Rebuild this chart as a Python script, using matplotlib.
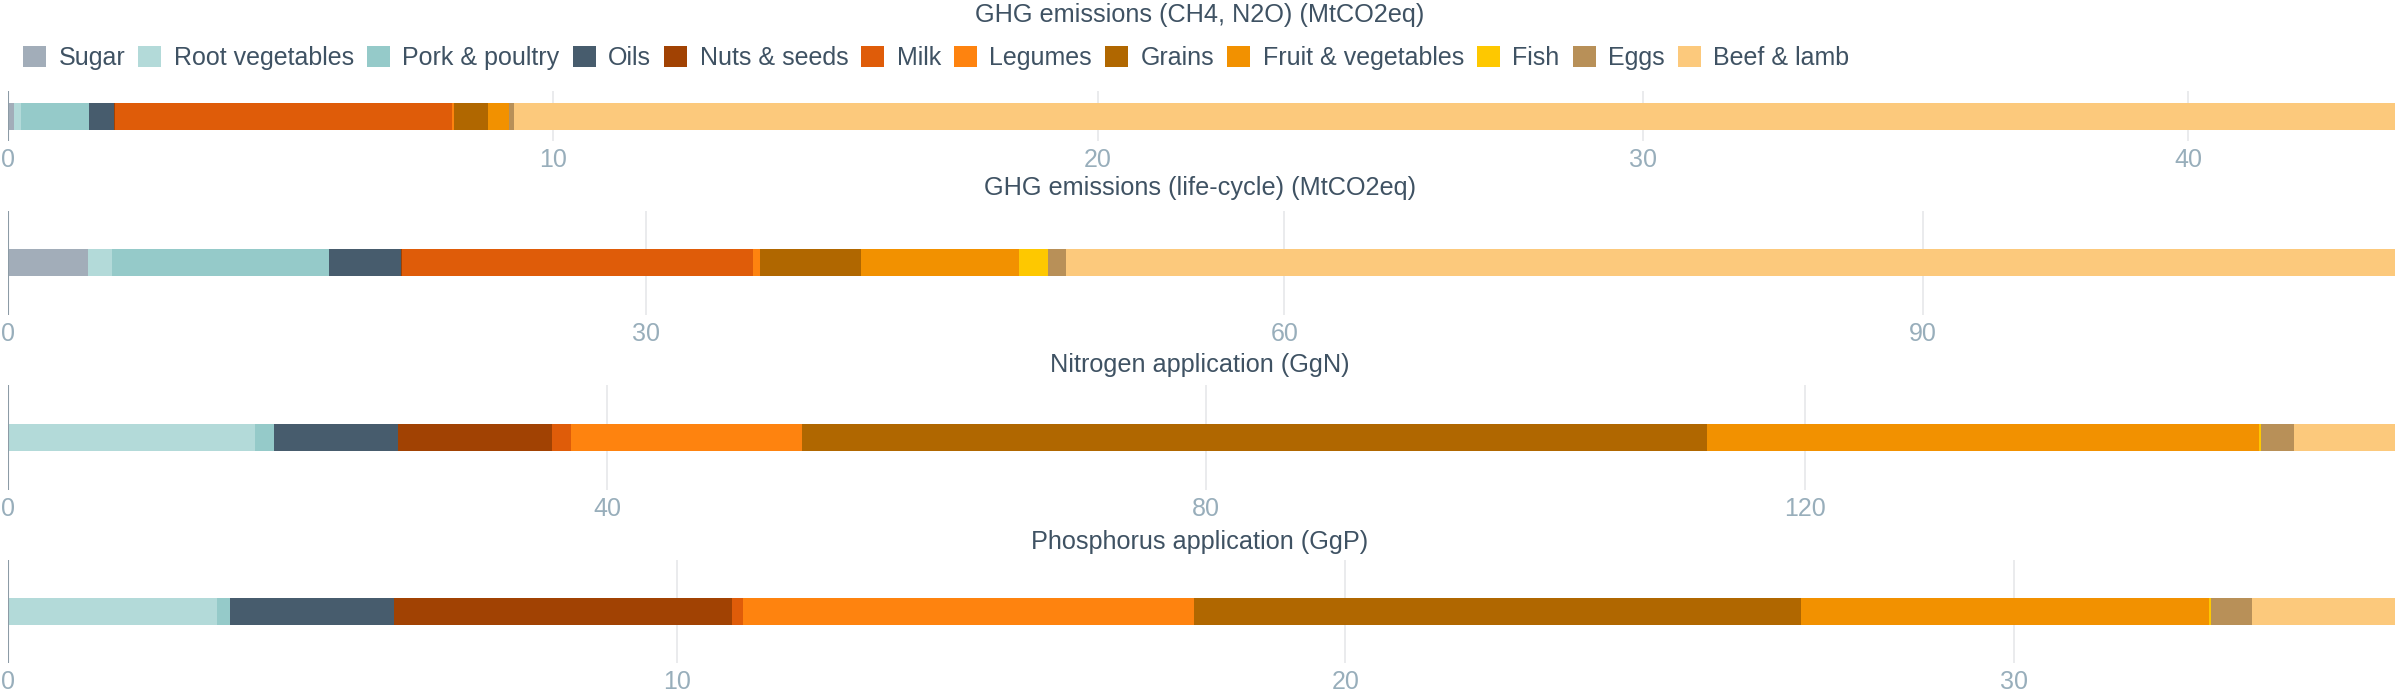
import matplotlib
matplotlib.use("Agg")
import matplotlib.pyplot as plt
from matplotlib.patches import Patch
import numpy as np

plt.rcParams['font.family'] = ['Liberation Sans', 'DejaVu Sans']

categories = ["Sugar", "Root vegetables", "Pork & poultry", "Oils", "Nuts & seeds",
              "Milk", "Legumes", "Grains", "Fruit & vegetables", "Fish", "Eggs",
              "Beef & lamb"]
colors = ["#a2adb9", "#b3dad9", "#95cac9", "#475c6d", "#a14203", "#df5c09",
          "#fe830f", "#b06700", "#f29100", "#fec800", "#b89058", "#fcc97c"]

titles = ["GHG emissions (CH4, N2O) (MtCO2eq)",
          "GHG emissions (life-cycle) (MtCO2eq)",
          "Nitrogen application (GgN)",
          "Phosphorus application (GgP)"]

ghg_ch4_n2o = [0.106, 0.139, 1.237, 0.462, 0.015, 6.19, 0.042, 0.624, 0.372, 0.0, 0.105, 34.50]
ghg_lifecycle = [3.74, 1.15, 10.18, 3.42, 0.02, 16.52, 0.32, 4.75, 7.41, 1.37, 0.86, 62.47]
nitrogen = [0.0, 16.5, 1.28, 8.27, 10.27, 1.28, 15.43, 60.37, 36.89, 0.13, 2.2, 6.74]
phosphorus = [0.0, 3.13, 0.195, 2.44, 5.06, 0.17, 6.74, 9.08, 6.10, 0.03, 0.61, 2.14]

ticks = [[0, 10, 20, 30, 40], [0, 30, 60, 90], [0, 40, 80, 120], [0, 10, 20, 30]]

series = [ghg_ch4_n2o, ghg_lifecycle, nitrogen, phosphorus]

W, H = 2400, 700
fig = plt.figure(figsize=(24, 7), dpi=100)

# axes pixel geometry (top, bottom)
geom = [(91, 141), (211, 315), (385, 490), (560, 663)]
title_y = [15, 188, 365, 542]
bar_px = 27
left_px, right_px = 8, 2395

title_color = "#3f5263"
tick_color = "#98aebb"
fs = 18

for i, vals in enumerate(series):
    top, bot = geom[i]
    ax = fig.add_axes([left_px / W, 1 - bot / H, (right_px - left_px) / W, (bot - top) / H])
    total = float(np.sum(vals))
    lefts = np.concatenate([[0], np.cumsum(vals)[:-1]])
    h = bar_px / (bot - top)
    ax.barh([0] * len(vals), vals, left=lefts, height=h, color=colors,
            linewidth=0, zorder=3)
    ax.set_xlim(0, total)
    ax.set_ylim(-0.5, 0.5)
    ax.set_yticks([])
    ax.set_xticks(ticks[i])
    ax.set_xticklabels([str(t) for t in ticks[i]])
    ax.tick_params(axis='x', length=0, pad=5, labelsize=fs, labelcolor=tick_color)
    ax.grid(axis='x', color="#e6e8ea", linewidth=1.2, zorder=0)
    for s in ax.spines.values():
        s.set_visible(False)
    ax.axvline(0, color="#8c9ba6", linewidth=1.5, zorder=4)
    fig.text(0.5, 1 - title_y[i] / H, titles[i], ha='center', va='center',
             fontsize=18.2, color=title_color)

handles = [Patch(facecolor=c, edgecolor='none', label=l) for c, l in zip(colors, categories)]
leg = fig.legend(handles=handles, loc='center left', bbox_to_anchor=(23 / W, 1 - 58 / H),
                 ncol=12, frameon=False, fontsize=fs, handlelength=0.92, handleheight=0.92,
                 handletextpad=0.5, columnspacing=0.52, borderpad=0, borderaxespad=0)
for t in leg.get_texts():
    t.set_color(title_color)

fig.savefig("out.png", dpi=100)
